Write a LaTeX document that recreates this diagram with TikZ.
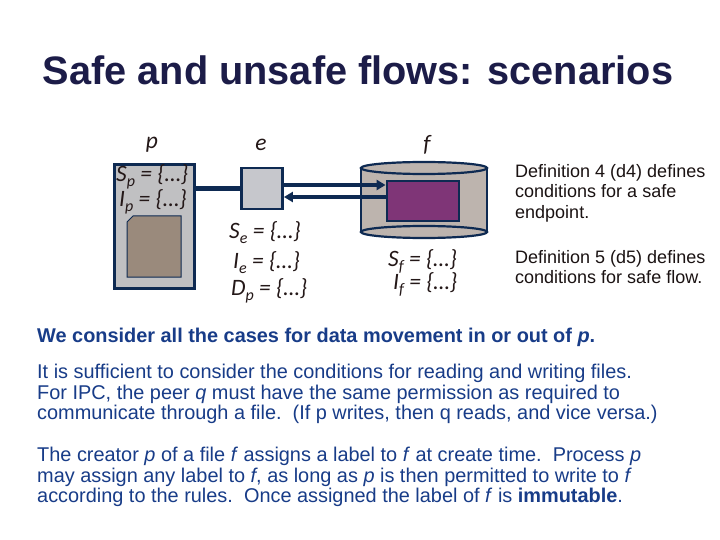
\documentclass[tikz,border=0pt]{standalone}
\usepackage{fontspec}
\setmainfont{Liberation Sans}
\newfontfamily\labfont{Carlito}
\usetikzlibrary{arrows.meta,positioning,calc}
\definecolor{boxline}{HTML}{0E2A52}
\definecolor{titlecol}{HTML}{1C1C48}
\definecolor{bodyblue}{HTML}{183C88}
\definecolor{labtext}{HTML}{241818}
\definecolor{deftxt}{HTML}{1A1212}
\definecolor{pgray}{HTML}{C0C0C2}
\definecolor{egray}{HTML}{C6C7CC}
\definecolor{docbrown}{HTML}{9A8A7C}
\definecolor{cylgray}{HTML}{BDB4AE}
\definecolor{filepurple}{HTML}{7F3577}
\newcommand\lsub[1]{\raisebox{-0.45ex}{\fontsize{16}{16}\selectfont#1}}

\begin{document}
\begin{tikzpicture}[x=1pt,y=-1pt,
    frame/.style={draw=boxline, line width=2.8pt},
    lab/.style={font=\labfont\itshape\fontsize{23.5}{25}\selectfont, text=labtext, inner sep=0pt},
    deftext/.style={font=\fontsize{18}{20.5}\selectfont, text=deftxt, align=left, anchor=north west, inner sep=0pt},
    body/.style={font=\fontsize{19.9}{20.6}\selectfont, text=bodyblue, align=left, anchor=north west, inner sep=0pt},
    flow/.style={draw=boxline, line width=4pt}]
    \useasboundingbox[fill=white] (0,0) rectangle (720,540);

    % Title
    \node[font=\bfseries\fontsize{39.7}{44}\selectfont, text=titlecol] (title) at (358,70) {Safe and unsafe flows: scenarios};

    % Names
    \node[lab] (plab) at (152,145) {p};
    \node[lab] (elab) at (261,145) {e};
    \node[lab] (flab) at (427,145) {f};

    % Process p
    \node[frame, fill=pgray, minimum width=80, minimum height=124, anchor=north west] (pbox) at (113,163) {};
    \node[lab, anchor=west] (sp) at (116,177) {S\lsub{p} = \{…\}};
    \node[lab, anchor=west] (ip) at (119,202) {I\lsub{p} = \{…\}};
    \draw[draw=boxline, line width=1pt, fill=docbrown] (127,222) -- (133,216) -- (181,216) -- (181,277) -- (127,277) -- cycle;

    % Endpoint e
    \node[frame, fill=egray, minimum size=41] (ebox) at (262,188.5) {};
    \node[lab, anchor=west] (se) at (229,233) {S\lsub{e} = \{…\}};
    \node[lab, anchor=west] (ie) at (233,263) {I\lsub{e} = \{…\}};
    \node[lab, anchor=west] (dp) at (231,291) {D\lsub{p} = \{…\}};

    % File f
    \fill[cylgray] (424,232) ellipse[x radius=63, y radius=6];
    \fill[cylgray] (361,168) rectangle (487,232);
    \draw[boxline, line width=2.2pt] (361,168) -- (361,232) (487,168) -- (487,232);
    \draw[boxline, line width=2.2pt] (424,232) ellipse[x radius=63, y radius=6];
    \draw[boxline, line width=2.2pt, fill=cylgray] (424,168) ellipse[x radius=63, y radius=6];
    \node[frame, fill=filepurple, minimum width=72, minimum height=40] (fin) at (423,201) {};
    \node[lab, anchor=west] (sf) at (388,261) {S\lsub{f} = \{…\}};
    \node[lab, anchor=west] (iff) at (393,284) {I\lsub{f} = \{…\}};

    % Flows
    \draw[flow, line width=5pt] (pbox.east |- ebox.west) -- (ebox.west);
    \draw[flow, -{Triangle[length=9pt,width=10pt]}] ([yshift=3.5pt]ebox.east) -- ([yshift=3.5pt]ebox.east -| fin.west);
    \draw[flow, -{Triangle[length=9pt,width=10pt]}] ([yshift=-8.5pt]ebox.east -| fin.west) -- ([yshift=-8.5pt]ebox.east);

    % Definitions
    \node[deftext] (def4) at (515,164) {Definition 4 (d4) defines\\conditions for a safe\\endpoint.};
    \node[deftext] (def5) at (515,250) {Definition 5 (d5) defines\\conditions for safe flow.};

    % Text
    \node[body, font=\bfseries\fontsize{19.9}{20.6}\selectfont] (cases) at (37,328) {We consider all the cases for data movement in or out of \textit{p}.};
    \node[body] (files) at (37,364) {It is sufficient to consider the conditions for reading and writing files.\\
        For IPC, the peer \textit{q} must have the same permission as required to\\
        communicate through a file.\ \ (If p writes, then q reads, and vice versa.)};
    \node[body] (label) at (37,447) {The creator \textit{p} of a file \textit{f} assigns a label to \textit{f} at create time.\ \ Process \textit{p}\\
        may assign any label to \textit{f}, as long as \textit{p} is then permitted to write to \textit{f}\\
        according to the rules.\ \ Once assigned the label of \textit{f} is \textbf{immutable}.};
\end{tikzpicture}
\end{document}
